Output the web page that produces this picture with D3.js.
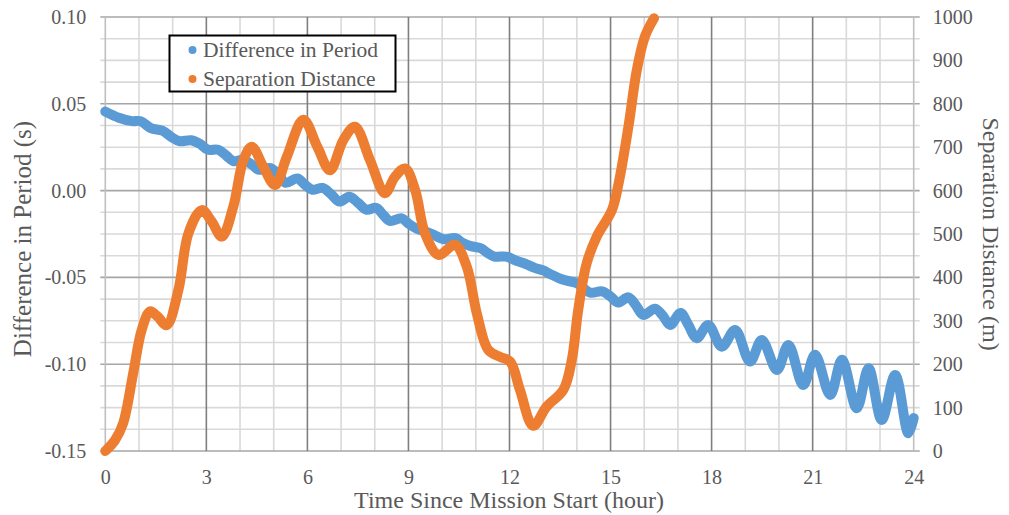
<!DOCTYPE html>
<html>
<head>
<meta charset="utf-8">
<script src="https://cdn.jsdelivr.net/npm/d3@7"></script>
<style>
  body { margin: 0; background: #fff; }
  svg text { font-family: "Liberation Serif", "Times New Roman", serif; fill: #595959; }
</style>
</head>
<body>
<svg id="chart" width="1009" height="515"></svg>
<script>
// Difference in orbital period (s) versus time since mission start (hour)
const periodHours = [0,0.4,0.8,1.05,1.35,1.7,1.95,2.2,2.55,2.8,3.05,3.35,3.6,3.8,4.1,4.35,4.55,4.9,5.15,5.35,
  5.7,5.95,6.15,6.45,6.7,6.95,7.25,7.5,7.75,8.05,8.25,8.45,8.8,9.0,9.25,9.5,9.75,10.05,10.4,10.6,
  10.85,11.15,11.35,11.55,11.9,12.15,12.45,12.75,13.0,13.2,13.6,14.0,14.4,14.75,15.0,15.22,15.53,15.75,15.97,16.32,
  16.55,16.77,17.08,17.3,17.56,17.9,18.3,18.7,19.14,19.49,19.94,20.28,20.72,21.07,21.52,21.87,22.31,22.66,23.05,23.45,
  23.84,24.0];
const periodDiff = [0.0455,0.042,0.040,0.040,0.036,0.0345,0.031,0.0285,0.029,0.027,0.0235,0.0235,0.020,0.017,0.0177,0.015,0.012,0.013,0.009,0.0045,
  0.007,0.003,0.0005,0.0015,-0.002,-0.0063,-0.0035,-0.007,-0.011,-0.010,-0.014,-0.0175,-0.016,-0.019,-0.022,-0.0235,-0.0255,-0.028,-0.0274,-0.030,
  -0.032,-0.0332,-0.036,-0.038,-0.038,-0.040,-0.042,-0.0445,-0.046,-0.048,-0.0514,-0.0534,-0.0588,-0.058,-0.061,-0.0645,-0.0615,-0.066,-0.0716,-0.068,
  -0.072,-0.0774,-0.0705,-0.077,-0.085,-0.0774,-0.0899,-0.0803,-0.0985,-0.086,-0.1033,-0.0889,-0.112,-0.0946,-0.1177,-0.0975,-0.1254,-0.1023,-0.1321,-0.1062,
  -0.1398,-0.131];

// Separation distance (m) versus time since mission start (hour)
const sepHours = [0,0.29,0.53,0.83,1.08,1.33,1.55,1.82,2.17,2.47,2.86,3.15,3.46,3.8,4.1,4.35,4.69,5.04,5.39,5.88,
  6.3,6.67,7.07,7.41,7.86,8.3,8.6,8.9,9.2,9.49,9.89,10.38,10.73,11.03,11.37,11.72,12.02,12.31,12.7,13.1,
  13.6,13.85,14.04,14.29,14.59,15.04,15.24,15.53,15.78,16.02,16.29];
const sepDist = [0,25,64,180,279,322,310,290,371,502,555,530,494,563,670,701,655,613,678,763,
  700,647,717,747,670,594,632,651,601,502,452,475,425,317,233,217,206,141,58,102,
  141,210,325,432,494,555,617,747,878,955,997];

// Axis ticks and labels
const timeTicks = [0,3,6,9,12,15,18,21,24];
const periodTicks = [-0.15,-0.10,-0.05,0.00,0.05,0.10];
const distTicks = [0,100,200,300,400,500,600,700,800,900,1000];
const seriesNames = ["Difference in Period", "Separation Distance"];
const seriesColors = ["#5b9bd5", "#ed7d31"];

const svg = d3.select("#chart");
const x = d3.scaleLinear().domain([0, 24]).range([105.3, 913.7]);
const yL = d3.scaleLinear().domain([-0.15, 0.10]).range([451, 17]);
const yR = d3.scaleLinear().domain([0, 1000]).range([451, 17]);

// Grid: hourly verticals, darker every 3 hours; horizontals every 0.0125 s, darker every 0.05 s
const grid = svg.append("g");
const hourLines = d3.range(1, 24);
grid.selectAll("line.vminor").data(hourLines.filter(h => h % 3 !== 0)).join("line")
  .attr("x1", d => x(d)).attr("x2", d => x(d)).attr("y1", yL(0.10)).attr("y2", yL(-0.15))
  .attr("stroke", "#d9d9d9").attr("stroke-width", 1.6);
const minorY = d3.range(0, 21).map(i => -0.15 + i * 0.0125);
grid.selectAll("line.hminor").data(minorY.filter((d, i) => i % 4 !== 0)).join("line")
  .attr("x1", x(0) - 5).attr("x2", x(24) + 6).attr("y1", d => yL(d)).attr("y2", d => yL(d))
  .attr("stroke", "#d9d9d9").attr("stroke-width", 1.6);
grid.selectAll("line.hmajor").data(minorY.filter((d, i) => i % 4 === 0)).join("line")
  .attr("x1", x(0) - 5).attr("x2", x(24) + 6).attr("y1", d => yL(d)).attr("y2", d => yL(d))
  .attr("stroke", "#a6a6a6").attr("stroke-width", 1.6);
grid.selectAll("line.vmajor").data(hourLines.filter(h => h % 3 === 0)).join("line")
  .attr("x1", d => x(d)).attr("x2", d => x(d)).attr("y1", yL(0.10)).attr("y2", yL(-0.15))
  .attr("stroke", "#7f7f7f").attr("stroke-width", 1.6);
// Axis lines
grid.append("line").attr("x1", x(0)).attr("x2", x(0)).attr("y1", yL(0.10)).attr("y2", yL(-0.15))
  .attr("stroke", "#bfbfbf").attr("stroke-width", 1.6);
grid.append("line").attr("x1", x(24)).attr("x2", x(24)).attr("y1", yL(0.10)).attr("y2", yL(-0.15))
  .attr("stroke", "#bfbfbf").attr("stroke-width", 1.6);

// Tick labels through D3 axes
function styleAxis(g) {
  g.select(".domain").remove();
  g.selectAll(".tick line").remove();
  g.selectAll("text").attr("font-size", 20).attr("fill", "#595959")
    .style("font-family", "'Liberation Serif', 'Times New Roman', serif");
}
svg.append("g").attr("transform", `translate(${x(0)},0)`)
  .call(d3.axisLeft(yL).tickValues(periodTicks).tickFormat(d => d.toFixed(2)).tickSize(0).tickPadding(19))
  .call(styleAxis);
svg.append("g").attr("transform", `translate(${x(24)},0)`)
  .call(d3.axisRight(yR).tickValues(distTicks).tickFormat(d => String(d)).tickSize(0).tickPadding(19))
  .call(styleAxis);
svg.append("g").attr("transform", `translate(0,${yL(-0.15)})`)
  .call(d3.axisBottom(x).tickValues(timeTicks).tickFormat(d => String(d)).tickSize(0).tickPadding(19))
  .call(styleAxis);

// Series lines
const periodLine = d3.line().x((d, i) => x(periodHours[i])).y(d => yL(d)).curve(d3.curveCatmullRom.alpha(0.5));
const sepLine = d3.line().x((d, i) => x(sepHours[i])).y(d => yR(d)).curve(d3.curveCatmullRom.alpha(0.5));
svg.append("path").datum(periodDiff).attr("d", periodLine)
  .attr("fill", "none").attr("stroke", seriesColors[0]).attr("stroke-width", 10)
  .attr("stroke-linecap", "round").attr("stroke-linejoin", "round");
svg.append("path").datum(sepDist).attr("d", sepLine)
  .attr("fill", "none").attr("stroke", seriesColors[1]).attr("stroke-width", 10)
  .attr("stroke-linecap", "round").attr("stroke-linejoin", "round");

// Legend
const legend = svg.append("g");
legend.append("rect").attr("x", 169.5).attr("y", 35.5).attr("width", 226).attr("height", 56)
  .attr("fill", "#fff").attr("stroke", "#000").attr("stroke-width", 2);
seriesNames.forEach((name, i) => {
  legend.append("circle").attr("cx", 192.5).attr("cy", 50 + i * 29).attr("r", 4).attr("fill", seriesColors[i]);
  legend.append("text").attr("x", 203).attr("y", 57 + i * 29).attr("font-size", 21.5).text(name);
});

// Axis titles
svg.append("text").attr("x", 509).attr("y", 508).attr("text-anchor", "middle")
  .attr("font-size", 24).text("Time Since Mission Start (hour)");
svg.append("text").attr("transform", "translate(22,239) rotate(-90)").attr("text-anchor", "middle")
  .attr("dominant-baseline", "central").attr("font-size", 25).text("Difference in Period (s)");
svg.append("text").attr("transform", "translate(991,234) rotate(90)").attr("text-anchor", "middle")
  .attr("dominant-baseline", "central").attr("font-size", 24).text("Separation Distance (m)");
</script>
</body>
</html>
